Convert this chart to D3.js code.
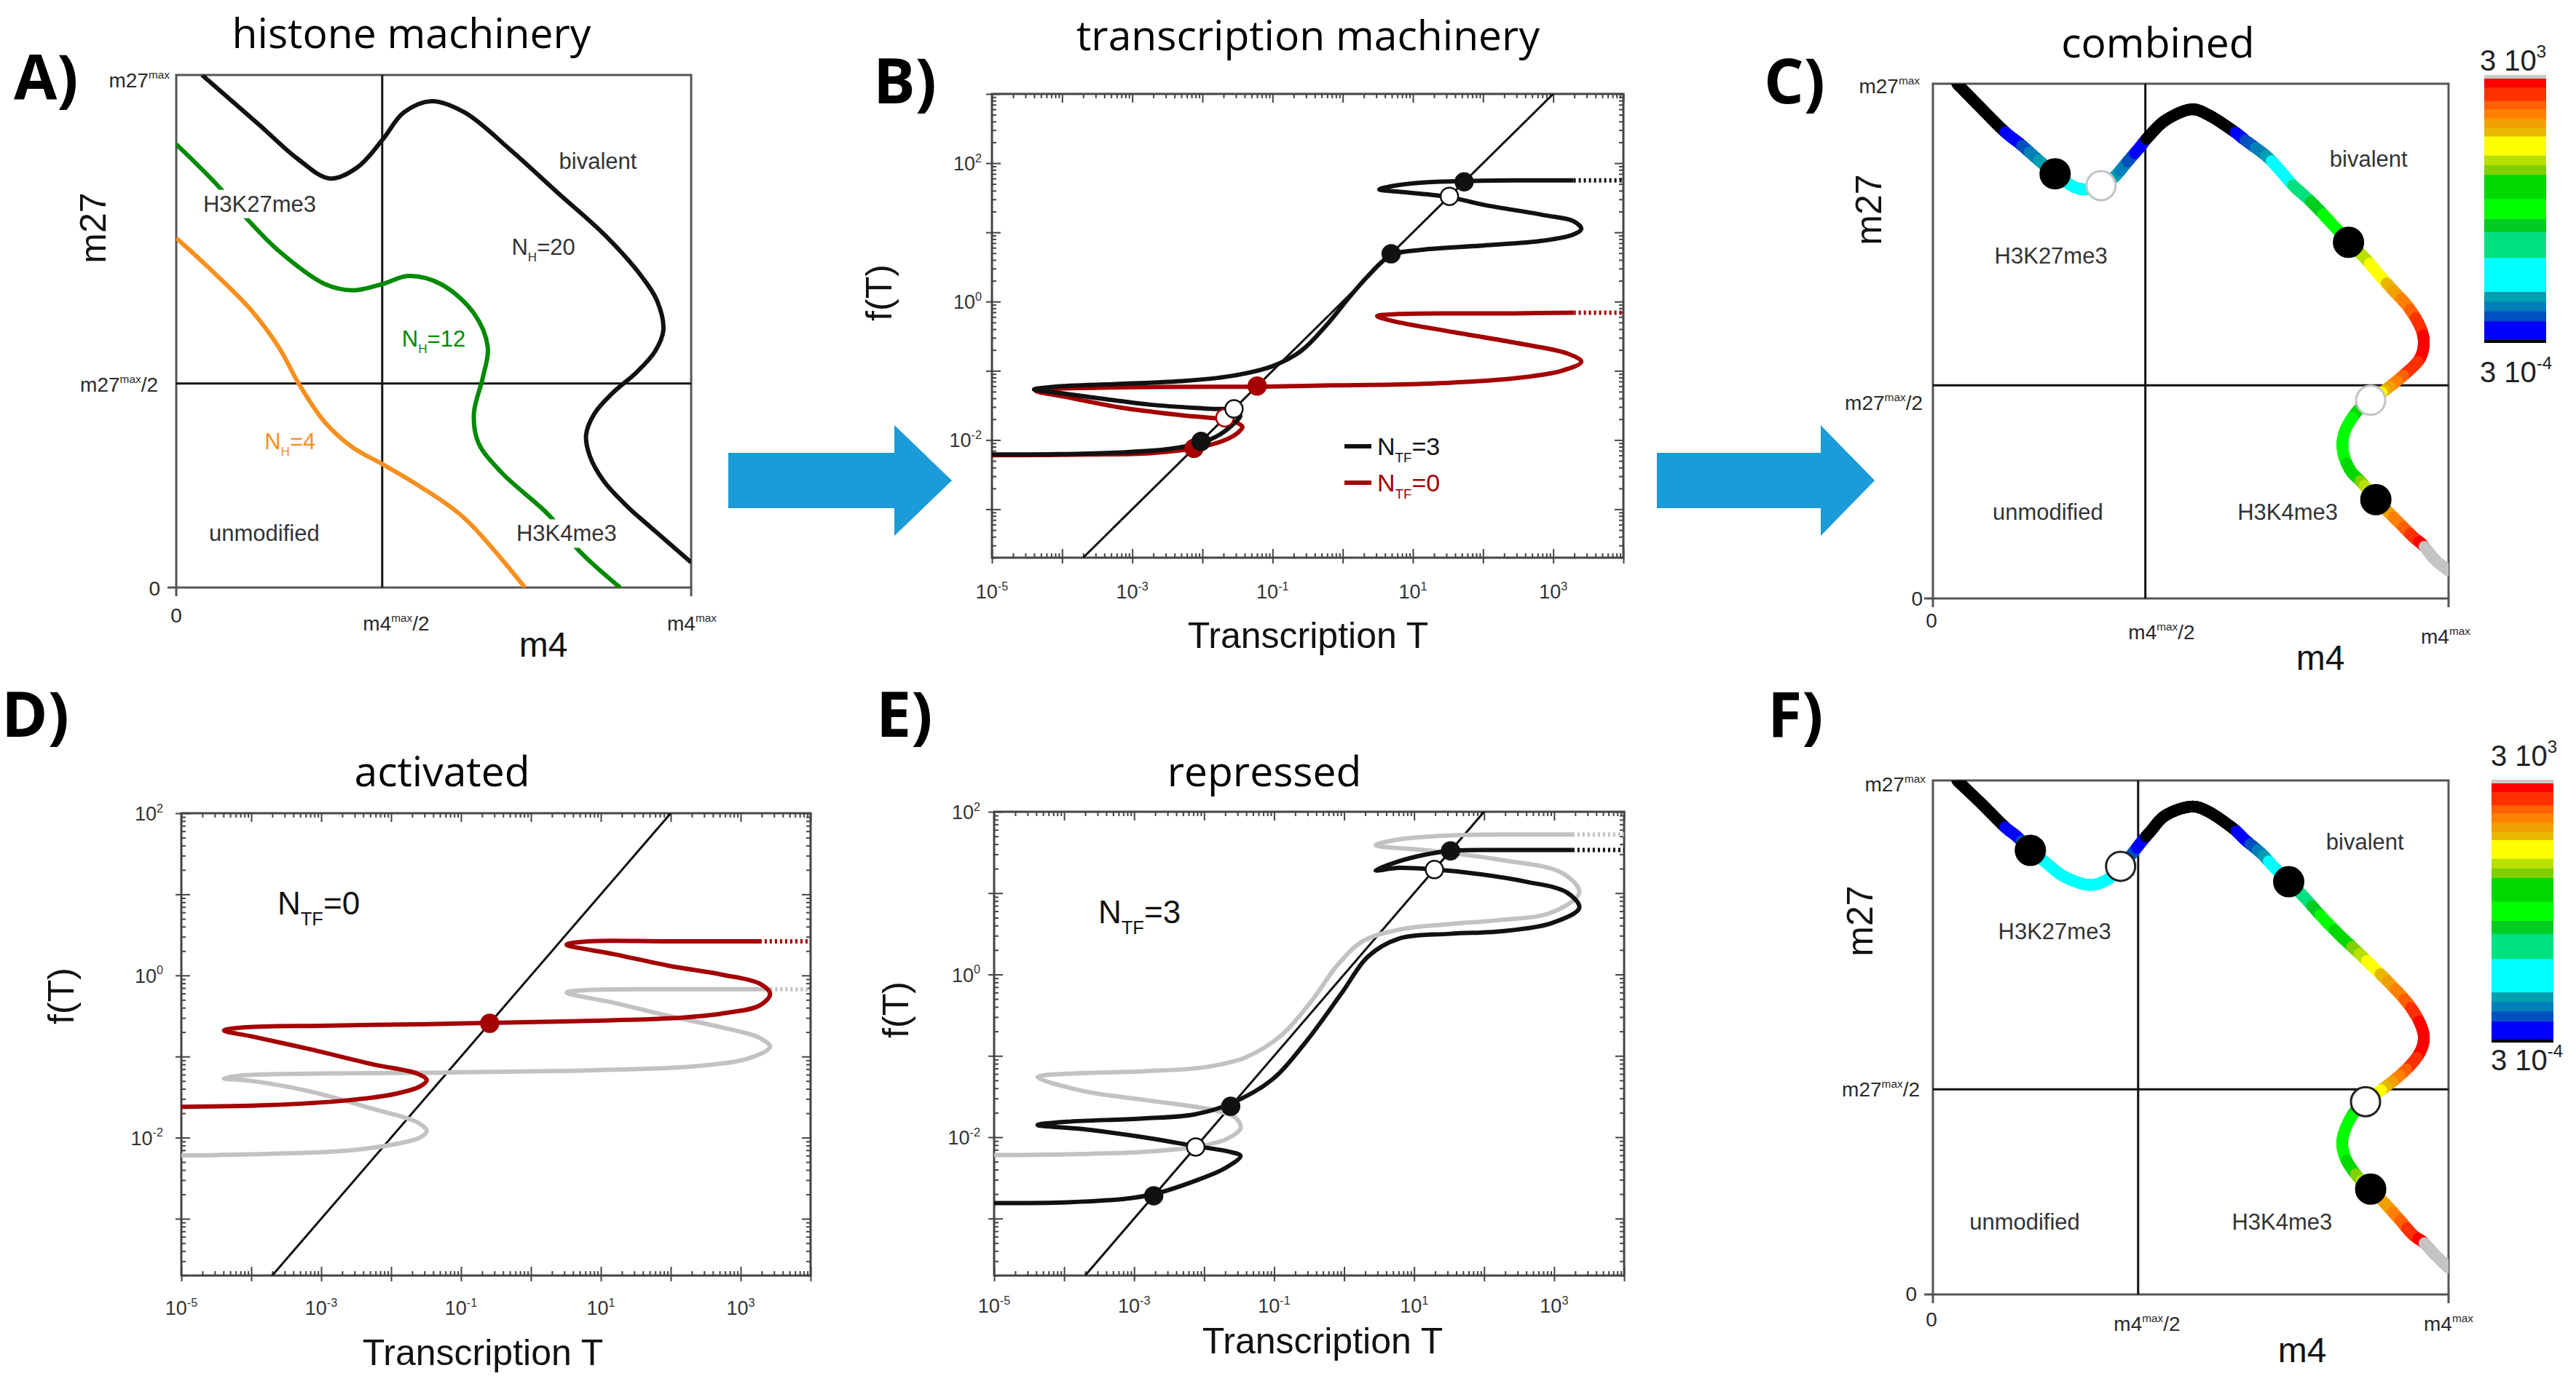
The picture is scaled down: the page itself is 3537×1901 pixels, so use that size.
<!DOCTYPE html>
<html><head><meta charset="utf-8">
<script src="https://cdn.jsdelivr.net/npm/d3@7/dist/d3.min.js"></script>
<style>html,body{margin:0;padding:0;background:#fff;}svg{display:block}</style>
</head><body>
<svg id="fig" width="3537" height="1901" viewBox="0 0 3537 1901"></svg>
<script>
// ======================= DATA =======================
// Panel A: histone-machinery nullclines, [m4/m4max, m27/m27max]
const histoneNH20 = [[0.050,1.0],[0.162,0.902],[0.235,0.837],[0.298,0.798],[0.352,0.820],[0.400,0.873],[0.442,0.927],[0.496,0.949],[0.560,0.927],[0.650,0.853],[0.740,0.771],[0.830,0.690],[0.903,0.608],[0.934,0.559],[0.946,0.502],[0.930,0.461],[0.894,0.420],[0.848,0.380],[0.812,0.339],[0.796,0.298],[0.803,0.257],[0.830,0.208],[0.875,0.159],[0.921,0.118],[1.0,0.049]];
const histoneNH12 = [[0,0.865],[0.077,0.788],[0.135,0.722],[0.199,0.657],[0.289,0.592],[0.343,0.580],[0.400,0.592],[0.451,0.608],[0.514,0.592],[0.578,0.535],[0.605,0.469],[0.596,0.412],[0.578,0.339],[0.587,0.282],[0.632,0.224],[0.722,0.143],[0.785,0.069],[0.862,0]];
const histoneNH4 = [[0,0.682],[0.063,0.624],[0.144,0.543],[0.199,0.469],[0.239,0.396],[0.289,0.322],[0.343,0.273],[0.400,0.241],[0.469,0.200],[0.560,0.135],[0.677,0]];
const histoneLabels = ["bivalent","H3K27me3","unmodified","H3K4me3"];
const nhLabels = ["N_{H}=20","N_{H}=12","N_{H}=4"];

// Panels B, D, E: transcription machinery, [log10 T, log10 f(T)]
const bNTF3 = [[-5.00,-2.21],[-4.03,-2.205],[-3.17,-2.18],[-2.48,-2.13],[-2.02,-2.04],[-1.75,-1.92],[-1.53,-1.74],[-1.46,-1.65],[-1.55,-1.57],[-1.88,-1.55],[-2.74,-1.49],[-3.60,-1.38],[-4.20,-1.30],[-4.40,-1.27],[-4.11,-1.23],[-3.17,-1.19],[-2.31,-1.15],[-1.62,-1.08],[-1.02,-0.94],[-0.59,-0.71],[-0.24,-0.35],[0.10,0.07],[0.36,0.37],[0.69,0.67],[1.14,0.75],[2.00,0.81],[2.86,0.88],[3.29,0.97],[3.40,1.05],[3.29,1.16],[2.86,1.25],[2.00,1.40],[1.51,1.51],[0.88,1.58],[0.52,1.62],[0.71,1.67],[1.14,1.72],[1.71,1.74],[2.43,1.75],[3.29,1.75],[4.0,1.75]];
const bNTF0 = [[-5.00,-2.22],[-3.60,-2.21],[-2.74,-2.19],[-2.12,-2.12],[-1.70,-2.01],[-1.49,-1.89],[-1.43,-1.81],[-1.53,-1.74],[-1.70,-1.70],[-2.31,-1.64],[-3.17,-1.53],[-3.94,-1.38],[-4.37,-1.29],[-4.11,-1.26],[-3.17,-1.24],[-1.88,-1.23],[-1.21,-1.23],[-0.15,-1.21],[0.71,-1.20],[1.57,-1.17],[2.43,-1.11],[3.12,-1.00],[3.40,-0.87],[3.20,-0.75],[2.43,-0.59],[1.57,-0.44],[0.71,-0.28],[0.49,-0.21],[0.79,-0.18],[1.57,-0.17],[2.43,-0.17],[3.29,-0.16],[4.0,-0.16]];
const bFixed = [{s:"NTF0",logT:-2.12,stable:true},{s:"NTF0",logT:-1.68,stable:false},{s:"NTF0",logT:-1.22,stable:true},{s:"NTF3",logT:-2.02,stable:true},{s:"NTF3",logT:-1.55,stable:false},{s:"NTF3",logT:0.69,stable:true},{s:"NTF3",logT:1.52,stable:false},{s:"NTF3",logT:1.73,stable:true}];
const bLegend = ["N_{TF}=3","N_{TF}=0"];

const dNTF0 = [[-5.0,-1.62],[-3.77,-1.60],[-2.63,-1.54],[-1.94,-1.46],[-1.59,-1.37],[-1.49,-1.29],[-1.63,-1.21],[-2.24,-1.10],[-3.16,-0.91],[-4.00,-0.75],[-4.39,-0.68],[-4.08,-0.64],[-3.01,-0.62],[-1.48,-0.60],[-0.59,-0.585],[0.82,-0.56],[1.97,-0.53],[2.73,-0.47],[3.27,-0.37],[3.42,-0.23],[3.27,-0.10],[2.73,0.01],[1.97,0.12],[1.20,0.26],[0.51,0.38],[0.82,0.42],[1.97,0.42],[3.27,0.42],[4.0,0.42]];
const dRef = [[-5.0,-2.22],[-3.77,-2.20],[-2.63,-2.16],[-1.94,-2.08],[-1.59,-2.00],[-1.49,-1.92],[-1.63,-1.81],[-2.24,-1.65],[-3.16,-1.43],[-4.00,-1.30],[-4.39,-1.27],[-4.08,-1.23],[-3.01,-1.21],[-1.48,-1.20],[0.82,-1.17],[2.35,-1.12],[3.12,-1.02],[3.42,-0.88],[3.27,-0.77],[2.73,-0.64],[1.97,-0.50],[1.20,-0.34],[0.51,-0.21],[0.82,-0.18],[1.97,-0.17],[3.42,-0.17],[4.0,-0.17]];
const dFixed = [{logT:-0.59,stable:true}];
const dNote = "N_{TF}=0";

const eNTF3 = [[-5.0,-2.81],[-3.96,-2.80],[-3.16,-2.76],[-2.72,-2.70],[-2.14,-2.54],[-1.70,-2.38],[-1.48,-2.23],[-1.63,-2.18],[-2.12,-2.11],[-2.87,-2.00],[-3.74,-1.90],[-4.38,-1.85],[-3.96,-1.81],[-2.87,-1.77],[-2.14,-1.72],[-1.63,-1.59],[-1.04,-1.30],[-0.53,-0.81],[-0.02,-0.21],[0.34,0.22],[0.78,0.44],[1.51,0.50],[2.23,0.53],[2.96,0.63],[3.36,0.82],[3.18,1.01],[2.60,1.14],[1.87,1.24],[1.29,1.29],[0.78,1.31],[0.45,1.28],[0.78,1.39],[1.14,1.47],[1.51,1.52],[2.23,1.53],[3.26,1.53],[4.0,1.53]];
const eRef = [[-5.0,-2.22],[-3.96,-2.21],[-2.87,-2.18],[-2.14,-2.12],[-1.70,-2.03],[-1.48,-1.89],[-1.55,-1.76],[-1.85,-1.67],[-2.87,-1.54],[-3.74,-1.43],[-4.38,-1.26],[-3.96,-1.22],[-2.87,-1.19],[-1.99,-1.14],[-1.41,-1.02],[-0.90,-0.75],[-0.46,-0.32],[-0.10,0.11],[0.27,0.41],[0.78,0.55],[1.51,0.62],[2.23,0.67],[2.96,0.76],[3.36,1.01],[3.11,1.25],[2.23,1.41],[1.14,1.53],[0.45,1.59],[0.78,1.66],[1.51,1.71],[2.23,1.72],[3.26,1.72],[4.0,1.72]];
const eFixed = [{logT:-2.72,stable:true},{logT:-2.12,stable:false},{logT:-1.62,stable:true},{logT:1.29,stable:false},{logT:1.52,stable:true}];
const eNote = "N_{TF}=3";

const xExpLabels = [-5,-3,-1,1,3];
const yExpLabels = [-2,0,2];

// Panels C, F: combined, [m4/m4max, m27/m27max, log10 T]
const cCombined = [[0.047,1.000,-4.5],[0.093,0.953,-4.2],[0.138,0.908,-3.55],[0.168,0.884,-3.1],[0.192,0.863,-2.65],[0.216,0.842,-2.35],[0.237,0.825,-2.2],[0.273,0.800,-1.9],[0.301,0.795,-1.8],[0.326,0.802,-1.9],[0.352,0.819,-2.3],[0.376,0.847,-2.7],[0.400,0.875,-3.2],[0.418,0.897,-3.6],[0.451,0.929,-4.5],[0.499,0.950,-5.0],[0.535,0.939,-4.5],[0.583,0.908,-3.6],[0.606,0.890,-3.0],[0.646,0.860,-2.5],[0.672,0.833,-1.8],[0.698,0.803,-1.3],[0.719,0.784,-0.9],[0.743,0.761,-0.45],[0.781,0.720,0.0],[0.806,0.692,0.5],[0.838,0.661,1.3],[0.866,0.628,1.7],[0.894,0.597,2.2],[0.922,0.566,2.6],[0.945,0.528,3.1],[0.952,0.496,3.4],[0.943,0.464,3.3],[0.912,0.433,2.9],[0.880,0.407,2.3],[0.849,0.385,1.2],[0.823,0.364,0.4],[0.799,0.325,0.0],[0.795,0.287,0.0],[0.809,0.250,0.4],[0.832,0.225,1.0],[0.859,0.192,1.8],[0.884,0.167,2.3],[0.908,0.143,2.6],[0.931,0.120,3.0],[0.952,0.102,3.45],[0.973,0.076,4.0],[1.000,0.054,4.0]];
const cFixed = [{m4:0.237,m27:0.825,stable:true},{m4:0.326,m27:0.802,stable:false},{m4:0.806,m27:0.692,stable:true},{m4:0.849,m27:0.385,stable:false},{m4:0.859,m27:0.192,stable:true}];
const fCombined = [[0.047,1.000,-4.5],[0.093,0.956,-4.2],[0.138,0.911,-3.55],[0.164,0.890,-3.2],[0.189,0.864,-2.6],[0.216,0.843,-1.9],[0.253,0.814,-1.8],[0.301,0.797,-1.8],[0.338,0.807,-1.8],[0.364,0.833,-2.2],[0.386,0.857,-2.7],[0.404,0.880,-3.3],[0.422,0.901,-3.7],[0.451,0.932,-4.5],[0.499,0.949,-5.0],[0.535,0.939,-4.5],[0.583,0.906,-3.6],[0.606,0.884,-3.2],[0.637,0.858,-2.6],[0.660,0.833,-2.0],[0.690,0.803,-1.6],[0.719,0.774,-1.0],[0.753,0.736,-0.2],[0.790,0.698,0.5],[0.823,0.667,1.1],[0.856,0.635,1.7],[0.888,0.603,2.3],[0.922,0.565,2.8],[0.945,0.527,3.3],[0.952,0.496,3.4],[0.941,0.465,3.3],[0.912,0.432,2.8],[0.874,0.401,2.1],[0.839,0.375,1.0],[0.814,0.350,0.3],[0.795,0.306,0.0],[0.799,0.268,0.1],[0.823,0.230,1.0],[0.849,0.205,1.6],[0.874,0.180,2.1],[0.903,0.148,2.6],[0.931,0.116,3.1],[0.952,0.101,3.45],[0.973,0.078,4.0],[1.000,0.052,4.0]];
const fFixed = [{m4:0.189,m27:0.864,stable:true},{m4:0.364,m27:0.833,stable:false},{m4:0.690,m27:0.803,stable:true},{m4:0.839,m27:0.375,stable:false},{m4:0.849,m27:0.205,stable:true}];

// colour bar: band edges in log10 T (3e-4 .. 3e3) and band colours bottom->top
const cbEdges = [-3.52,-3.01,-2.74,-2.48,-2.22,-1.31,-0.62,-0.27,0.26,0.91,1.17,1.43,1.94,2.17,2.41,2.67,2.89,3.25,3.48];
const cbColors = ["#0000ff","#0050c0","#0080b8","#00a0b0","#00ffff","#00e080","#00cc22","#00ff00","#00d800","#80d000","#b8e000","#ffff00","#e8b800","#f0a000","#ff8000","#ff6000","#ff3000","#ff0000"];
const cbLabels = ["3 10^{3}","3 10^{-4}"];

const titles = ["histone machinery","transcription machinery","combined","activated","repressed"];
const panelLetters = ["A)","B)","C)","D)","E)","F)"];

// ======================= DRAWING =======================
const svg = d3.select("#fig");
svg.append("rect").attr("width",3537).attr("height",1901).attr("fill","#fff");
const SANS = "'Liberation Sans', Arial, sans-serif";
const TFONT = "'Open Sans', 'Noto Sans', sans-serif";
let clipN = 0;

function parts(str){
  const re=/\^\{([^}]*)\}|_\{([^}]*)\}|([^\^_]+)/g; let m; const out=[];
  while((m=re.exec(str))){ if(m[1]!==undefined) out.push({t:m[1],s:"sup"}); else if(m[2]!==undefined) out.push({t:m[2],s:"sub"}); else out.push({t:m[3],s:null}); }
  return out;
}
function rich(g,str,x,y,size,o={}){
  const t=g.append("text").attr("x",x).attr("y",y).attr("font-size",size)
    .attr("font-family",o.family||SANS).attr("fill",o.fill||"#2a2a2a").attr("text-anchor",o.anchor||"start");
  if(o.weight) t.attr("font-weight",o.weight);
  if(o.rotate) t.attr("transform",`rotate(-90 ${x} ${y})`);
  let cur=0;
  parts(str).forEach(p=>{
    const off = p.s==="sup" ? -(o.rise||0.42)*size : p.s==="sub" ? (o.drop||0.3)*size : 0;
    const ts=t.append("tspan").attr("dy",off-cur).text(p.t);
    if(p.s) ts.attr("font-size",size*(o.scale||0.58));
    cur=off;
  });
  return t;
}
function withBg(g,textSel){
  const b=textSel.node().getBBox();
  g.insert("rect",()=>textSel.node()).attr("x",b.x-4).attr("y",b.y-2).attr("width",b.width+8).attr("height",b.height+4).attr("fill","#fff");
}
function clipFor(box){
  const id="clip"+(clipN++);
  svg.append("clipPath").attr("id",id).append("rect").attr("x",box.x0).attr("y",box.y0).attr("width",box.x1-box.x0).attr("height",box.y1-box.y0);
  return `url(#${id})`;
}
function title(str,cx,by){ svg.append("text").attr("x",cx).attr("y",by).attr("text-anchor","middle").attr("font-family",TFONT).attr("font-size",57).attr("font-weight",500).attr("fill","#000").text(str); }
function letter(str,x,by){ svg.append("text").attr("x",x).attr("y",by).attr("font-family",TFONT).attr("font-weight",700).attr("font-size",86).attr("fill","#000").text(str); }

// ---------- m4/m27 panels ----------
function histPanel(box,midX,midY){
  const x=d3.scaleLinear().domain([0,1]).range([box.x0,box.x1]);
  const y=d3.scaleLinear().domain([0,1]).range([box.y1,box.y0]);
  const g=svg.append("g");
  g.append("rect").attr("x",box.x0).attr("y",box.y0).attr("width",box.x1-box.x0).attr("height",box.y1-box.y0)
    .attr("fill","none").attr("stroke","#555").attr("stroke-width",3);
  g.append("line").attr("x1",x(midX)).attr("x2",x(midX)).attr("y1",box.y0).attr("y2",box.y1).attr("stroke","#111").attr("stroke-width",3);
  g.append("line").attr("x1",box.x0).attr("x2",box.x1).attr("y1",y(midY)).attr("y2",y(midY)).attr("stroke","#111").attr("stroke-width",3);
  g.append("line").attr("x1",box.x0-12).attr("x2",box.x0).attr("y1",box.y1).attr("y2",box.y1).attr("stroke","#555").attr("stroke-width",3);
  [0,1].forEach(v=>g.append("line").attr("x1",x(v)).attr("x2",x(v)).attr("y1",box.y1).attr("y2",box.y1+12).attr("stroke","#555").attr("stroke-width",3));
  return {x,y,g,clip:clipFor(box)};
}
function histTicks(P,box,lab){
  const g=P.g, fs=28;
  rich(g,"m27^{max}",lab.yTop[0],lab.yTop[1],fs,{anchor:"end",scale:0.55});
  rich(g,"m27^{max}/2",lab.yMid[0],lab.yMid[1],fs,{anchor:"end",scale:0.55});
  rich(g,"0",lab.y0[0],lab.y0[1],fs,{anchor:"end"});
  rich(g,"0",lab.x0[0],lab.x0[1],fs,{anchor:"middle"});
  rich(g,"m4^{max}/2",lab.xMid[0],lab.xMid[1],fs,{anchor:"middle",scale:0.55});
  rich(g,"m4^{max}",lab.xTop[0],lab.xTop[1],fs,{anchor:"middle",scale:0.55});
}
function plainCurve(P,data,color,w){
  const line=d3.line().x(d=>P.x(d[0])).y(d=>P.y(d[1])).curve(d3.curveCatmullRom.alpha(0.5));
  P.g.append("path").attr("d",line(data)).attr("fill","none").attr("stroke",color).attr("stroke-width",w)
    .attr("stroke-linejoin","round").attr("clip-path",P.clip);
}
const bandScale=d3.scaleThreshold().domain(cbEdges.slice(1,-1)).range(cbColors);
function colorFor(v){ if(v<cbEdges[0]) return "#000"; if(v>cbEdges[cbEdges.length-1]) return "#c4c4c4"; return bandScale(v); }
function colorCurve(P,data,w){
  const Q=data.map(d=>({x:P.x(d[0]),y:P.y(d[1]),v:d[2]}));
  const S=[], n=16;
  for(let i=0;i<Q.length-1;i++){
    const p0=Q[Math.max(0,i-1)],p1=Q[i],p2=Q[i+1],p3=Q[Math.min(Q.length-1,i+2)];
    for(let k=0;k<n;k++){
      const t=k/n,t2=t*t,t3=t2*t;
      const cr=(a,b,c,d)=>0.5*((2*b)+(-a+c)*t+(2*a-5*b+4*c-d)*t2+(-a+3*b-3*c+d)*t3);
      S.push({x:cr(p0.x,p1.x,p2.x,p3.x),y:cr(p0.y,p1.y,p2.y,p3.y),v:p1.v+(p2.v-p1.v)*t});
    }
  }
  S.push(Q[Q.length-1]);
  const gg=P.g.append("g").attr("clip-path",P.clip);
  for(let i=0;i<S.length-1;i++){
    gg.append("line").attr("x1",S[i].x).attr("y1",S[i].y).attr("x2",S[i+1].x).attr("y2",S[i+1].y)
      .attr("stroke",colorFor((S[i].v+S[i+1].v)/2)).attr("stroke-width",w).attr("stroke-linecap","round");
  }
}
function fixedHist(P,pts,openStroke){
  P.g.selectAll(null).data(pts).enter().append("circle")
    .attr("cx",d=>P.x(d.m4)).attr("cy",d=>P.y(d.m27)).attr("r",20)
    .attr("fill",d=>d.stable?"#000":"#fff").attr("stroke",d=>d.stable?"#000":openStroke).attr("stroke-width",3);
}
function regionLabel(P,str,fx,fy,o={}){
  const t=rich(P.g,str,P.x(fx),P.y(fy)+11,31,Object.assign({anchor:"middle",fill:"#333",scale:0.55,drop:0.3},o));
  if(o.bg) withBg(P.g,t);
  return t;
}
function colorbar(cb,labTop,labBot){
  const s=d3.scaleLinear().domain([cbEdges[0],cbEdges[cbEdges.length-1]]).range([cb.y1,cb.y0]);
  const g=svg.append("g");
  g.append("rect").attr("x",cb.x0).attr("y",cb.y0-5).attr("width",cb.x1-cb.x0).attr("height",5).attr("fill","#c8c8c8");
  cbColors.forEach((c,i)=>g.append("rect").attr("x",cb.x0).attr("y",s(cbEdges[i+1])).attr("width",cb.x1-cb.x0)
    .attr("height",s(cbEdges[i])-s(cbEdges[i+1])+0.5).attr("fill",c));
  g.append("rect").attr("x",cb.x0).attr("y",cb.y1).attr("width",cb.x1-cb.x0).attr("height",4).attr("fill","#000");
  rich(g,cbLabels[0],labTop[0],labTop[1],40,{fill:"#222",scale:0.6,rise:0.45});
  rich(g,cbLabels[1],labBot[0],labBot[1],40,{fill:"#222",scale:0.6,rise:0.45});
}

// ---------- log panels ----------
function logPanel(box,yMinExp,yMaxExp){
  const x=d3.scaleLog().domain([1e-5,1e4]).range([box.x0,box.x1]);
  const y=d3.scaleLog().domain([10**yMinExp,10**yMaxExp]).range([box.y1,box.y0]);
  const g=svg.append("g");
  const xMaj=d3.range(-5,5).map(e=>10**e), xMin=[];
  d3.range(-5,4).forEach(e=>{for(let k=2;k<10;k++) xMin.push(k*10**e);});
  const yMaj=d3.range(Math.ceil(yMinExp),Math.floor(yMaxExp)+1).map(e=>10**e), yMin=[];
  d3.range(Math.floor(yMinExp),Math.ceil(yMaxExp)).forEach(e=>{for(let k=2;k<10;k++){const v=k*10**e; if(v>=10**yMinExp&&v<=10**yMaxExp) yMin.push(v);}});
  const style=s=>{s.select(".domain").remove(); s.selectAll("line").attr("stroke","#444").attr("stroke-width",2);};
  const ax=(gen,tx,ty)=>g.append("g").attr("transform",`translate(${tx},${ty})`).call(gen).call(style);
  ax(d3.axisBottom(x).tickValues(xMaj).tickSize(-12).tickFormat(""),0,box.y1);
  ax(d3.axisBottom(x).tickValues(xMin).tickSize(-6).tickFormat(""),0,box.y1);
  ax(d3.axisBottom(x).tickValues(xMaj).tickSize(8).tickFormat(""),0,box.y1);
  ax(d3.axisTop(x).tickValues(xMaj).tickSize(-12).tickFormat(""),0,box.y0);
  ax(d3.axisTop(x).tickValues(xMin).tickSize(-6).tickFormat(""),0,box.y0);
  ax(d3.axisLeft(y).tickValues(yMaj).tickSize(-12).tickFormat(""),box.x0,0);
  ax(d3.axisLeft(y).tickValues(yMin).tickSize(-6).tickFormat(""),box.x0,0);
  ax(d3.axisLeft(y).tickValues(yMaj).tickSize(8).tickFormat(""),box.x0,0);
  ax(d3.axisRight(y).tickValues(yMaj).tickSize(-12).tickFormat(""),box.x1,0);
  ax(d3.axisRight(y).tickValues(yMin).tickSize(-6).tickFormat(""),box.x1,0);
  g.append("rect").attr("x",box.x0).attr("y",box.y0).attr("width",box.x1-box.x0).attr("height",box.y1-box.y0)
    .attr("fill","none").attr("stroke","#444").attr("stroke-width",3);
  const P={x,y,g,clip:clipFor(box),box,yMinExp,yMaxExp};
  const dom=[10**yMinExp,10**yMaxExp];
  g.append("path").attr("d",d3.line().x(d=>x(d)).y(d=>y(d))(dom)).attr("stroke","#111").attr("stroke-width",3).attr("fill","none").attr("clip-path",P.clip);
  return P;
}
function logTickLabels(P,xBase,yGap){
  xExpLabels.forEach(e=>rich(P.g,`10^{${e}}`,P.x(10**e),xBase,27,{anchor:"middle",scale:0.6,fill:"#333"}));
  yExpLabels.forEach(e=>rich(P.g,`10^{${e}}`,P.box.x0-yGap,P.y(10**e)+10,27,{anchor:"end",scale:0.6,fill:"#333"}));
}
function sCurve(P,data,color,w){
  const line=d3.line().x(d=>P.x(10**d[0])).y(d=>P.y(10**d[1])).curve(d3.curveCatmullRom.alpha(0.5));
  P.g.append("path").attr("d",line(data.slice(0,-1))).attr("fill","none").attr("stroke",color).attr("stroke-width",w).attr("clip-path",P.clip);
  P.g.append("path").attr("d",line(data.slice(-2))).attr("fill","none").attr("stroke",color).attr("stroke-width",w)
    .attr("stroke-dasharray","3,4").attr("clip-path",P.clip);
}
function fixedLog(P,pts,colorOf){
  P.g.selectAll(null).data(pts).enter().append("circle")
    .attr("cx",d=>P.x(10**d.logT)).attr("cy",d=>P.y(10**d.logT)).attr("r",12)
    .attr("fill",d=>d.stable?colorOf(d):"#fff").attr("stroke",d=>colorOf(d)).attr("stroke-width",2.5);
}
function axisTitles(P,xt,yt){
  rich(P.g,"Transcription T",xt[0],xt[1],50,{anchor:"middle",fill:"#111"});
  rich(P.g,"f(T)",yt[0],yt[1],50,{anchor:"middle",fill:"#111",rotate:true});
}
const RED="#a50000", BLK="#111", GRY="#c2c2c2";

// ---- arrows ----
function arrow(x0,xb,xt,yc,sh,hh){
  svg.append("path").attr("d",d3.line()([[x0,yc-sh],[xb,yc-sh],[xb,yc-hh],[xt,yc],[xb,yc+hh],[xb,yc+sh],[x0,yc+sh]])+"Z").attr("fill","#1b9bd7");
}
arrow(1000,1228,1307,660,38,76);
arrow(2275,2500,2574,660,38,76);

// ===== Panel A =====
{
  const box={x0:242,x1:949,y0:103,y1:807};
  title(titles[0],565,66); letter(panelLetters[0],19,137);
  const P=histPanel(box,0.4,0.398);
  plainCurve(P,histoneNH4,"#f7901e",6);
  plainCurve(P,histoneNH12,"#008a00",6);
  plainCurve(P,histoneNH20,"#111",6);
  histTicks(P,box,{yTop:[233,120],yMid:[217,538],y0:[220,818],x0:[242,855],xMid:[544,866],xTop:[950,866]});
  rich(P.g,"m4",746,902,48,{anchor:"middle",fill:"#111"});
  rich(P.g,"m27",145,313,50,{anchor:"middle",fill:"#111",rotate:true});
  regionLabel(P,histoneLabels[0],0.819,0.833);
  regionLabel(P,histoneLabels[1],0.162,0.749,{bg:true});
  regionLabel(P,histoneLabels[2],0.171,0.106);
  regionLabel(P,histoneLabels[3],0.758,0.106,{bg:true});
  regionLabel(P,nhLabels[0],0.713,0.665);
  regionLabel(P,nhLabels[1],0.50,0.486,{fill:"#008a00"});
  regionLabel(P,nhLabels[2],0.221,0.286,{fill:"#f7901e"});
}

// ===== Panel B =====
{
  const box={x0:1362,x1:2229,y0:129,y1:766};
  title(titles[1],1796,69); letter(panelLetters[1],1199,142);
  const P=logPanel(box,-3.7,3);
  sCurve(P,bNTF0,RED,6);
  sCurve(P,bNTF3,BLK,6);
  fixedLog(P,bFixed.filter(d=>d.s==="NTF0"),()=>RED);
  fixedLog(P,bFixed.filter(d=>d.s==="NTF3"),()=>BLK);
  logTickLabels(P,822,14);
  axisTitles(P,[1796,890],[1224,402]);
  P.g.append("line").attr("x1",1846).attr("x2",1883).attr("y1",613).attr("y2",613).attr("stroke",BLK).attr("stroke-width",6);
  P.g.append("line").attr("x1",1846).attr("x2",1883).attr("y1",663).attr("y2",663).attr("stroke",RED).attr("stroke-width",6);
  rich(P.g,bLegend[0],1891,625,34,{fill:BLK,scale:0.55});
  rich(P.g,bLegend[1],1891,675,34,{fill:RED,scale:0.55});
}

// ===== Panel C =====
{
  const box={x0:2654,x1:3362,y0:115,y1:822};
  title(titles[2],2963,79); letter(panelLetters[2],2422,142);
  const P=histPanel(box,0.412,0.414);
  colorCurve(P,cCombined,16);
  fixedHist(P,cFixed,"#c4c4c4");
  histTicks(P,box,{yTop:[2636,128],yMid:[2640,563],y0:[2640,832],x0:[2652,862],xMid:[2968,878],xTop:[3358,884]});
  rich(P.g,"m4",3186,920,48,{anchor:"middle",fill:"#111"});
  rich(P.g,"m27",2583,288,50,{anchor:"middle",fill:"#111",rotate:true});
  regionLabel(P,histoneLabels[0],0.845,0.854);
  regionLabel(P,histoneLabels[1],0.229,0.666);
  regionLabel(P,histoneLabels[2],0.223,0.168);
  regionLabel(P,histoneLabels[3],0.688,0.168);
  colorbar({x0:3411,x1:3496,y0:108,y1:467},[3405,97],[3405,525]);
}

// ===== Panel D =====
{
  const box={x0:249,x1:1113,y0:1117,y1:1752};
  title(titles[3],607,1080); letter(panelLetters[3],2,1012);
  const P=logPanel(box,-3.7,2);
  sCurve(P,dRef,GRY,6);
  sCurve(P,dNTF0,RED,6);
  fixedLog(P,dFixed,()=>RED);
  logTickLabels(P,1806,25);
  axisTitles(P,[663,1875],[101,1368]);
  rich(P.g,dNote,381,1256,44,{fill:"#111",scale:0.58,drop:0.35});
}

// ===== Panel E =====
{
  const box={x0:1365,x1:2230,y0:1115,y1:1752};
  title(titles[4],1736,1080); letter(panelLetters[4],1203,1012);
  const P=logPanel(box,-3.7,2);
  sCurve(P,eRef,GRY,6);
  sCurve(P,eNTF3,BLK,6);
  fixedLog(P,eFixed,()=>BLK);
  logTickLabels(P,1803,19);
  axisTitles(P,[1816,1859],[1247,1387]);
  rich(P.g,eNote,1508,1268,44,{fill:"#111",scale:0.58,drop:0.35});
}

// ===== Panel F =====
{
  const box={x0:2654,x1:3362,y0:1072,y1:1778};
  letter(panelLetters[5],2427,1012);
  const P=histPanel(box,0.398,0.399);
  colorCurve(P,fCombined,16);
  fixedHist(P,fFixed,"#222");
  histTicks(P,box,{yTop:[2644,1087],yMid:[2636,1506],y0:[2632,1787],x0:[2652,1822],xMid:[2948,1828],xTop:[3362,1828]});
  rich(P.g,"m4",3161,1871,48,{anchor:"middle",fill:"#111"});
  rich(P.g,"m27",2571,1265,50,{anchor:"middle",fill:"#111",rotate:true});
  regionLabel(P,histoneLabels[0],0.838,0.881);
  regionLabel(P,histoneLabels[1],0.236,0.707);
  regionLabel(P,histoneLabels[2],0.178,0.142);
  regionLabel(P,histoneLabels[3],0.677,0.142);
  colorbar({x0:3421,x1:3506,y0:1076,y1:1428},[3420,1052],[3420,1470]);
}
</script>
</body></html>
